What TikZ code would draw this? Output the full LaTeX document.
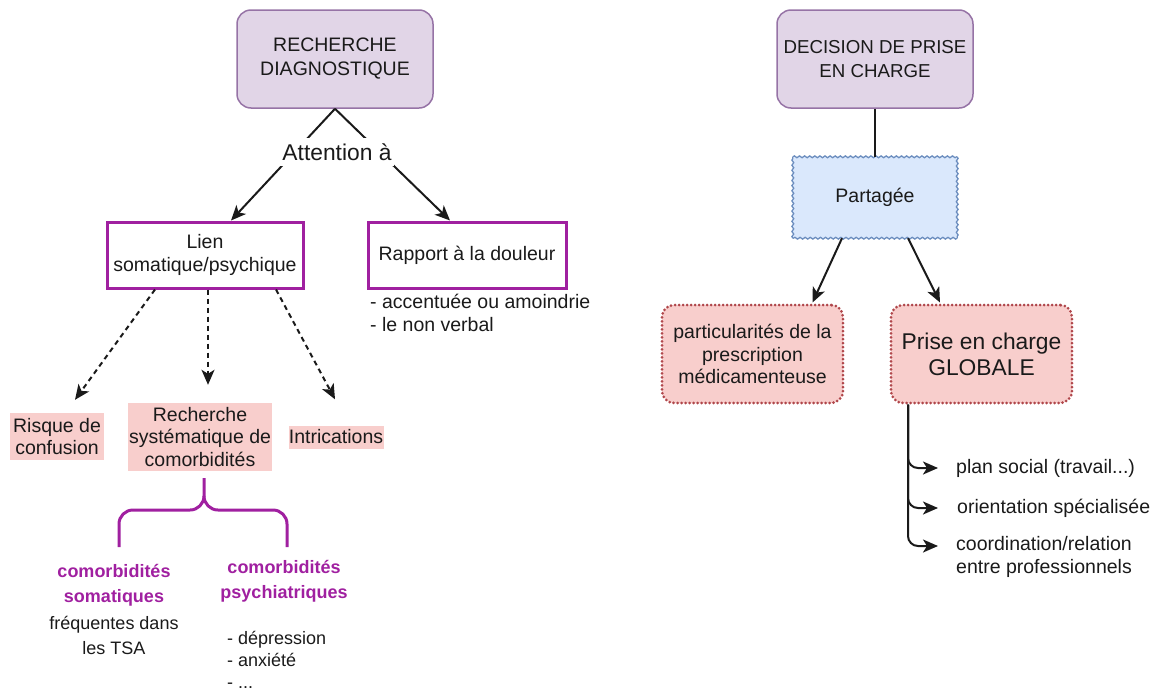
\documentclass[tikz,border=0pt]{standalone}
\usepackage{fontspec}
\setmainfont{Liberation Sans}
\usetikzlibrary{arrows.meta,decorations.pathmorphing,calc}
\definecolor{purpfill}{HTML}{E1D5E7}
\definecolor{purpdraw}{HTML}{9673A6}
\definecolor{mag}{HTML}{A020A0}
\definecolor{pinkfill}{HTML}{F8CECC}
\definecolor{pinkdraw}{HTML}{B0474B}
\definecolor{bluefill}{HTML}{DAE8FC}
\definecolor{bluedraw}{HTML}{6C8EBF}
\definecolor{ink}{HTML}{1A1A1A}
\begin{document}
\begin{tikzpicture}[x=1pt,y=-1pt,
  font=\fontsize{19.5}{22.5}\selectfont, text=ink,
  topbox/.style={draw=purpdraw, fill=purpfill, line width=1.5pt, rounded corners=14pt,
    minimum width=196pt, minimum height=98pt, align=center, inner sep=0pt},
  magbox/.style={draw=mag, line width=3pt, fill=white, minimum height=66pt,
    align=center, inner sep=0pt},
  pinkbox/.style={fill=pinkfill, align=center, inner sep=0pt},
  redbox/.style={fill=pinkfill, draw=pinkdraw, line width=3pt, dash pattern=on 0pt off 4pt,
    line cap=round, rounded corners=12pt, minimum width=181pt, minimum height=98pt,
    align=center, inner sep=0pt},
  bluebox/.style={fill=bluefill, rounded corners=2pt,
    minimum width=164pt, minimum height=81pt, inner sep=0pt},
  wavy/.style={draw=bluedraw, line width=1.3pt, decorate,
    decoration={snake, amplitude=0.9pt, segment length=5.1pt}},
  edgeline/.style={draw=ink, line width=2pt},
  arr/.style={edgeline, -{Stealth[length=15pt,width=13pt,inset=4pt]}},
  dasharr/.style={arr, dash pattern=on 5pt off 4pt},
  magtext/.style={text=mag, font=\fontsize{18}{25}\selectfont\bfseries, align=center, inner sep=0pt},
  smalltext/.style={font=\fontsize{18}{25}\selectfont, inner sep=0pt},
  listtext/.style={font=\fontsize{18}{22}\selectfont, align=left, inner sep=0pt, anchor=north west},
  righttext/.style={align=left, inner sep=0pt, anchor=west}
]
\useasboundingbox (0,0) rectangle (1158,691);

% ---------------- Left part ----------------
\node[topbox, font=\fontsize{19.5}{24}\selectfont] (rec) at (335,59) {RECHERCHE\\DIAGNOSTIQUE};
\node[magbox, minimum width=196pt] (lien) at (205,255) {Lien\\somatique/psychique};
\node[magbox, minimum width=198pt] (rap) at (467,255) {Rapport à la douleur};

\draw[arr] (rec.south) -- ([xshift=26pt]lien.north);
\draw[arr] (rec.south) -- ([xshift=-17pt]rap.north);
\node[fill=white, inner xsep=2pt, inner ysep=5pt, font=\fontsize{22.8}{26}\selectfont] (att) at (337,152) {Attention à};

\node[anchor=north west, align=left, inner sep=0pt] (raplist) at (370,294)
  {- accentuée ou amoindrie\\- le non verbal};

\node[pinkbox, minimum width=94pt, minimum height=47pt] (risque) at (57,436.5) {Risque de\\confusion};
\node[pinkbox, minimum width=144pt, minimum height=68pt] (rech) at (200,437) {Recherche\\systématique de\\comorbidités};
\node[pinkbox, minimum width=95pt, minimum height=23pt] (intr) at (336,437) {Intrications};

\draw[dasharr] ([xshift=-50pt]lien.south) -- ([xshift=18pt,yshift=13pt]risque.north);
\draw[dasharr] ([xshift=3pt]lien.south) -- ([xshift=8pt,yshift=18pt]rech.north);
\draw[dasharr] ([xshift=71pt]lien.south) -- ([xshift=-1pt,yshift=26pt]intr.north);

% brace
\draw[mag, line width=3pt] (204,478) -- (204,496) to[out=-90,in=0] (190,510) -- (133,510)
  to[out=180,in=90] (119,524) -- (119,547);
\draw[mag, line width=3pt] (204,496) to[out=-90,in=180] (218,510) -- (273,510)
  to[out=0,in=90] (287,524) -- (287,547);

\node[magtext] (csom) at (114,585) {comorbidités\\somatiques};
\node[smalltext, align=center] (freq) at (114,635.5) {fréquentes dans\\les TSA};
\node[magtext] (cpsy) at (284,581) {comorbidités\\psychiatriques};
\node[listtext] (psylist) at (227,631) {- dépression\\- anxiété\\- ...};

% ---------------- Right part ----------------
\node[topbox, font=\fontsize{18.7}{24}\selectfont] (dec) at (875,59) {DECISION DE PRISE\\EN CHARGE};
\node[bluebox] (part) at (875,197.5) {Partagée};
\draw[wavy] (part.north west) -- (part.north east);
\draw[wavy] (part.north east) -- (part.south east);
\draw[wavy] (part.south east) -- (part.south west);
\draw[wavy] (part.south west) -- (part.north west);
\draw[edgeline] (dec.south) -- (part.north);

\node[redbox] (partic) at (752.5,354) {particularités de la\\prescription\\médicamenteuse};
\node[redbox, font=\fontsize{22.8}{26}\selectfont] (prise) at (981.5,354) {Prise en charge\\GLOBALE};

\draw[arr] ([xshift=-33pt]part.south) -- ([xshift=60pt,yshift=1pt]partic.north);
\draw[arr] ([xshift=33pt]part.south) -- ([xshift=-41.5pt,yshift=1pt]prise.north);

\node[righttext] (t1) at (956,468) {plan social (travail...)};
\node[righttext] (t2) at (957,508) {orientation spécialisée};
\node[righttext] (t3) at (956,557) {coordination/relation\\entre professionnels};

\coordinate (pb) at ([xshift=-73.5pt]prise.south);
\draw[arr, rounded corners=10pt] (pb) |- ([xshift=-18pt]t1.west);
\draw[arr, rounded corners=10pt] (pb) |- ([xshift=-19pt]t2.west);
\draw[arr, rounded corners=10pt] (pb) |- ([xshift=-18pt,yshift=11pt]t3.west);
\end{tikzpicture}
\end{document}
